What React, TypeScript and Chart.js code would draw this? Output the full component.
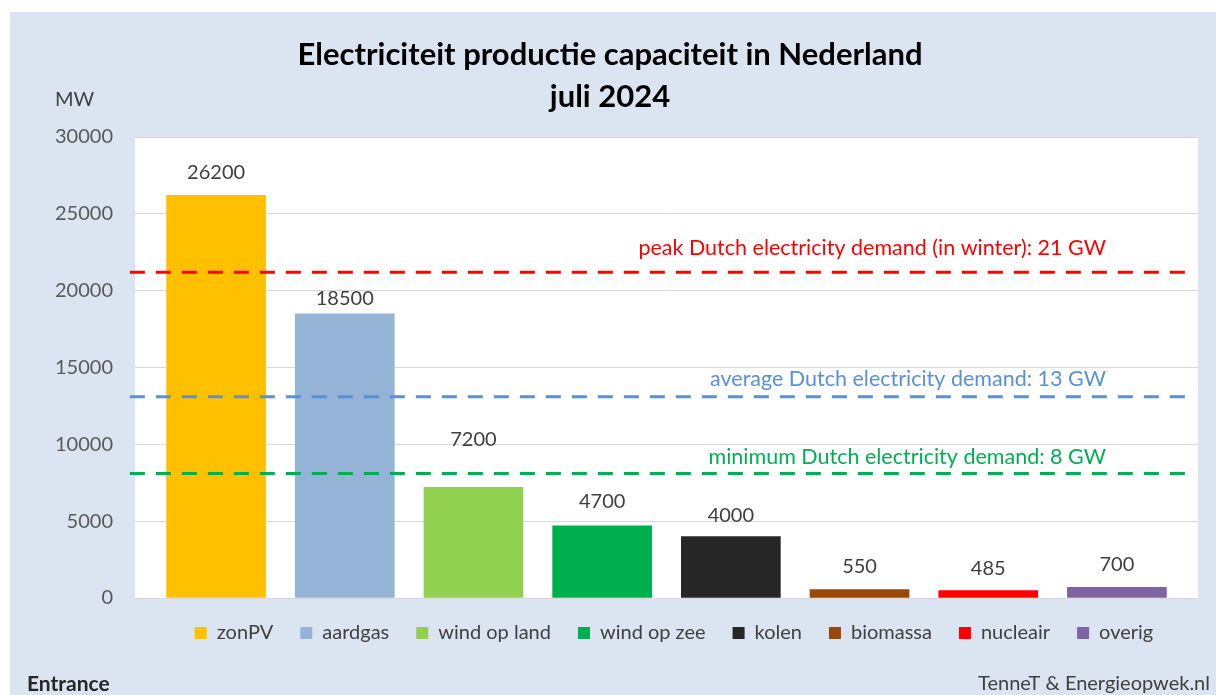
import React, { useEffect, useRef } from "react";
import { Chart, registerables } from "chart.js";

Chart.register(...registerables);

const TITLE_LINES = ["Electriciteit productie capaciteit in Nederland", "juli 2024"];
const CATEGORIES = ["zonPV", "aardgas", "wind op land", "wind op zee", "kolen", "biomassa", "nucleair", "overig"];
const CAPACITY_MW = [26200, 18500, 7200, 4700, 4000, 550, 485, 700];
const BAR_COLORS = ["#FFC000", "#95B3D7", "#92D050", "#00B050", "#262626", "#984807", "#FF0000", "#8064A2"];
const DEMAND_LABELS = [
  "peak Dutch electricity demand (in winter): 21 GW",
  "average Dutch electricity demand: 13 GW",
  "minimum Dutch electricity demand: 8 GW",
];
const DEMAND_MW = [21200, 13100, 8100];
const DEMAND_COLORS = ["#FF0000", "#5B8FD6", "#00B050"];
const Y_MIN = 0;
const Y_MAX = 30000;
const Y_STEP = 5000;
const UNIT_LABEL = "MW";
const SOURCE_LABEL = "TenneT & Energieopwek.nl";
const CORNER_LABEL = "Entrance";

const X_MIN = -0.63;
const X_MAX = CATEGORIES.length - 1 + 0.63;
const LINE_X_START = -0.67;
const LINE_X_END = CATEGORIES.length - 1 + 0.55;
const FONT = "Lato, 'Noto Sans', sans-serif";

const bgPlugin = {
  id: "bgPlugin",
  beforeDraw(chart: any) {
    const { ctx, chartArea, width, height } = chart;
    ctx.save();
    ctx.fillStyle = "#FFFFFF";
    ctx.fillRect(0, 0, width, height);
    ctx.fillStyle = "#DBE5F1";
    ctx.fillRect(10, 12, width - 10, height - 12);
    ctx.fillStyle = "#FFFFFF";
    ctx.fillRect(chartArea.left, chartArea.top, chartArea.right - chartArea.left, chartArea.bottom - chartArea.top);
    ctx.restore();
  },
  afterLayout(chart: any) {
    const o = chart.options.plugins.bgPlugin || {};
    if (chart.legend) {
      chart.legend.left += o.legendShiftX || 0;
      chart.legend.right += o.legendShiftX || 0;
      chart.legend.top += o.legendShiftY || 0;
      chart.legend.bottom += o.legendShiftY || 0;
    }
    if (chart.titleBlock) {
      chart.titleBlock.left += o.titleShiftX || 0;
      chart.titleBlock.right += o.titleShiftX || 0;
    }
  },
};

const textPlugin = {
  id: "textPlugin",
  afterDatasetsDraw(chart: any) {
    const { ctx, chartArea } = chart;
    const xs = chart.scales.x;
    const ys = chart.scales.y;
    const opts = chart.options.plugins.textPlugin;
    ctx.save();
    ctx.textBaseline = "middle";
    // bar value labels
    ctx.font = `20px ${FONT}`;
    ctx.fillStyle = "#404040";
    ctx.textAlign = "center";
    CAPACITY_MW.forEach((v, i) => {
      ctx.fillText(String(v), xs.getPixelForValue(i), ys.getPixelForValue(v) - opts.valueOffsets[i]);
    });
    // demand labels
    ctx.font = `21.5px ${FONT}`;
    ctx.textAlign = "right";
    DEMAND_LABELS.forEach((t, i) => {
      ctx.fillStyle = DEMAND_COLORS[i];
      ctx.fillText(t, xs.getPixelForValue(CATEGORIES.length - 1) - 11, ys.getPixelForValue(DEMAND_MW[i]) - opts.demandOffsets[i]);
    });
    // unit label
    ctx.font = `20px ${FONT}`;
    ctx.textAlign = "left";
    ctx.fillStyle = "#404040";
    ctx.fillText(UNIT_LABEL, chartArea.left - 80, chartArea.top - 37);
    // corner + source
    ctx.font = `bold 21px ${FONT}`;
    ctx.fillStyle = "#262626";
    ctx.fillText(CORNER_LABEL, 27, 684);
    ctx.font = `20px ${FONT}`;
    ctx.fillStyle = "#404040";
    ctx.textAlign = "right";
    ctx.fillText(SOURCE_LABEL, 1210, 684);
    ctx.restore();
  },
};

export default function App() {
  const ref = useRef<HTMLCanvasElement | null>(null);

  useEffect(() => {
    if (!ref.current) return;
    const chart = new Chart(ref.current, {
      type: "bar",
      data: {
        datasets: [
          ...DEMAND_MW.map((v, i) => ({
            type: "line" as const,
            label: DEMAND_LABELS[i],
            data: [
              { x: LINE_X_START, y: v },
              { x: LINE_X_END, y: v },
            ],
            borderColor: DEMAND_COLORS[i],
            borderWidth: 3,
            borderDash: [15, 11],
            pointRadius: 0,
            fill: false,
            clip: false,
            order: 0,
          })),
          {
            type: "bar" as const,
            label: "capaciteit",
            data: CAPACITY_MW.map((v, i) => ({ x: i, y: v })),
            backgroundColor: BAR_COLORS,
            barThickness: 99,
            order: 2,
          },
        ],
      },
      options: {
        responsive: false,
        animation: false,
        layout: { padding: { left: 10, right: 18, top: 12, bottom: 40 } },
        scales: {
          x: {
            type: "linear",
            min: X_MIN,
            max: X_MAX,
            offset: false,
            display: false,
          },
          y: {
            min: Y_MIN,
            max: Y_MAX,
            ticks: {
              stepSize: Y_STEP,
              padding: 22,
              color: "#595959",
              font: { family: FONT, size: 20 },
              callback: (v: any) => String(v),
            },
            grid: { color: "#D9D9D9", drawTicks: false, lineWidth: 1 },
            border: { display: false },
            afterFit(scale: any) {
              scale.width = 125;
            },
          },
        },
        plugins: {
          tooltip: { enabled: false },
          title: {
            display: true,
            text: TITLE_LINES,
            color: "#000000",
            font: { family: FONT, size: 31, weight: "bold", lineHeight: 42 / 31 },
            padding: { top: 22, bottom: 19 },
          },
          legend: {
            position: "bottom",
            labels: {
              boxWidth: 12,
              boxHeight: 12,
              padding: 27,
              color: "#404040",
              font: { family: FONT, size: 20 },
              generateLabels: () =>
                CATEGORIES.map((c, i) => ({
                  text: c,
                  fillStyle: BAR_COLORS[i],
                  strokeStyle: BAR_COLORS[i],
                  lineWidth: 0,
                  hidden: false,
                  datasetIndex: 3,
                  fontColor: "#404040",
                })),
            },
          },
          bgPlugin: { legendShiftX: 70, legendShiftY: -2, titleShiftX: 6 },
          textPlugin: {
            valueOffsets: [23, 15, 48, 24, 21, 23, 22, 23],
            demandOffsets: [24, 18, 16],
          },
        } as any,
      },
      plugins: [bgPlugin, textPlugin],
    } as any);
    return () => chart.destroy();
  }, []);

  return (
    <div style={{ position: "fixed", left: 0, top: 0, width: 1216, height: 695, background: "#fff" }}>
      <canvas ref={ref} width={1216} height={695} style={{ display: "block" }} />
    </div>
  );
}
